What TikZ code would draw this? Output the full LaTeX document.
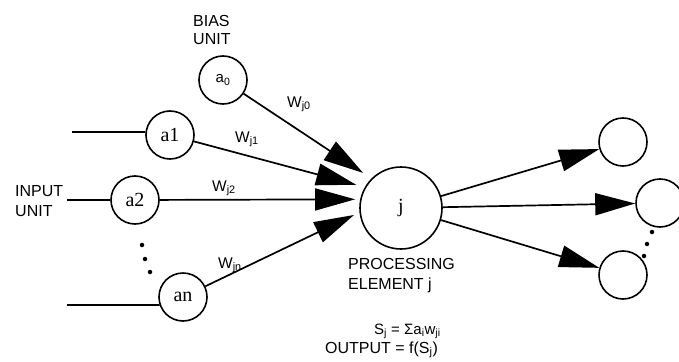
\documentclass[tikz,border=0pt]{standalone}
\usepackage{fontspec}
\setmainfont{Liberation Serif}
\newfontfamily\labfont{Liberation Sans}
\usetikzlibrary{arrows.meta}
\begin{document}
\begin{tikzpicture}[x=1pt,y=-1pt,
  unit/.style={circle, draw, line width=1.6pt, minimum size=48pt, inner sep=0pt,
    font=\fontsize{20}{22}\selectfont},
  pe/.style={unit, minimum size=82pt},
  wire/.style={line width=1.7pt},
  link/.style={wire, -{Triangle[length=40pt,width=22pt]}},
  lab/.style={font=\labfont\fontsize{16}{20}\selectfont, inner sep=0pt},
  wlab/.style={font=\labfont\fontsize{15.5}{16}\selectfont, inner sep=0pt, anchor=base west},
  dot/.style={circle, fill, inner sep=0pt, minimum size=4.5pt}
]
\clip (0,0) rectangle (679,361);
\fill[white] (0,0) rectangle (679,361);

% units
\node[unit, font=\labfont\fontsize{15}{16}\selectfont] (a0) at (223,80) {a\textsubscript{0}};
\node[unit] (a1) at (170,135) {a1};
\node[unit] (a2) at (135,200) {a2};
\node[unit] (an) at (183,297) {an};
\node[pe] (j) at (401,208) {j};
\node[unit] (o1) at (623,142) {};
\node[unit] (o2) at (660,203) {};
\node[unit] (o3) at (623,275) {};

% input wires
\coordinate (in1) at (72,132);
\coordinate (in2) at (67,200);
\coordinate (in3) at (67,305);
\draw[wire] (in1) -- (a1.173);
\draw[wire] (in2) -- (a2);
\draw[wire] (in3) -- (an.199);

% weighted connections into the processing element
\draw[link, shorten >=10pt] (a0) -- (j.135);
\draw[link, shorten >=9pt] (a1) -- (j.150);
\draw[link, shorten >=5pt] (a2) -- (j.168);
\draw[link, shorten >=6pt] (an) -- (j.186);

% outputs
\draw[link] (j) -- (o1);
\draw[link] (j) -- (o2);
\draw[link] (j) -- (o3);

% ellipsis dots
\node[dot] (d1) at (142,245) {};
\node[dot] (d2) at (145,259) {};
\node[dot] (d3) at (150,272) {};
\node[dot] (e1) at (652,232) {};
\node[dot] (e2) at (647,244) {};
\node[dot] (e3) at (644,256) {};

% weight labels
\node[wlab] (w0) at (287,107) {W\textsubscript{j0}};
\node[wlab] (w1) at (235,142) {W\textsubscript{j1}};
\node[wlab] (w2) at (212,191) {W\textsubscript{j2}};
\node[wlab] (wn) at (218,268) {W\textsubscript{jn}};

% text labels
\node[lab, align=left, anchor=north west, font=\labfont\fontsize{16}{18}\selectfont] (bias) at (193,15) {BIAS\\UNIT};
\node[lab, align=left, anchor=north west] (inp) at (15,185) {INPUT\\UNIT};
\node[lab, align=left, anchor=north west] (proc) at (348,258) {PROCESSING\\ELEMENT j};
\node[lab, anchor=base west, font=\labfont\fontsize{15}{16}\selectfont] (sj) at (374,334) {S\textsubscript{j} = Σa\textsubscript{i}w\textsubscript{ji}};
\node[lab, anchor=base west] (out) at (325,353) {OUTPUT = f(S\textsubscript{j})};
\end{tikzpicture}
\end{document}
